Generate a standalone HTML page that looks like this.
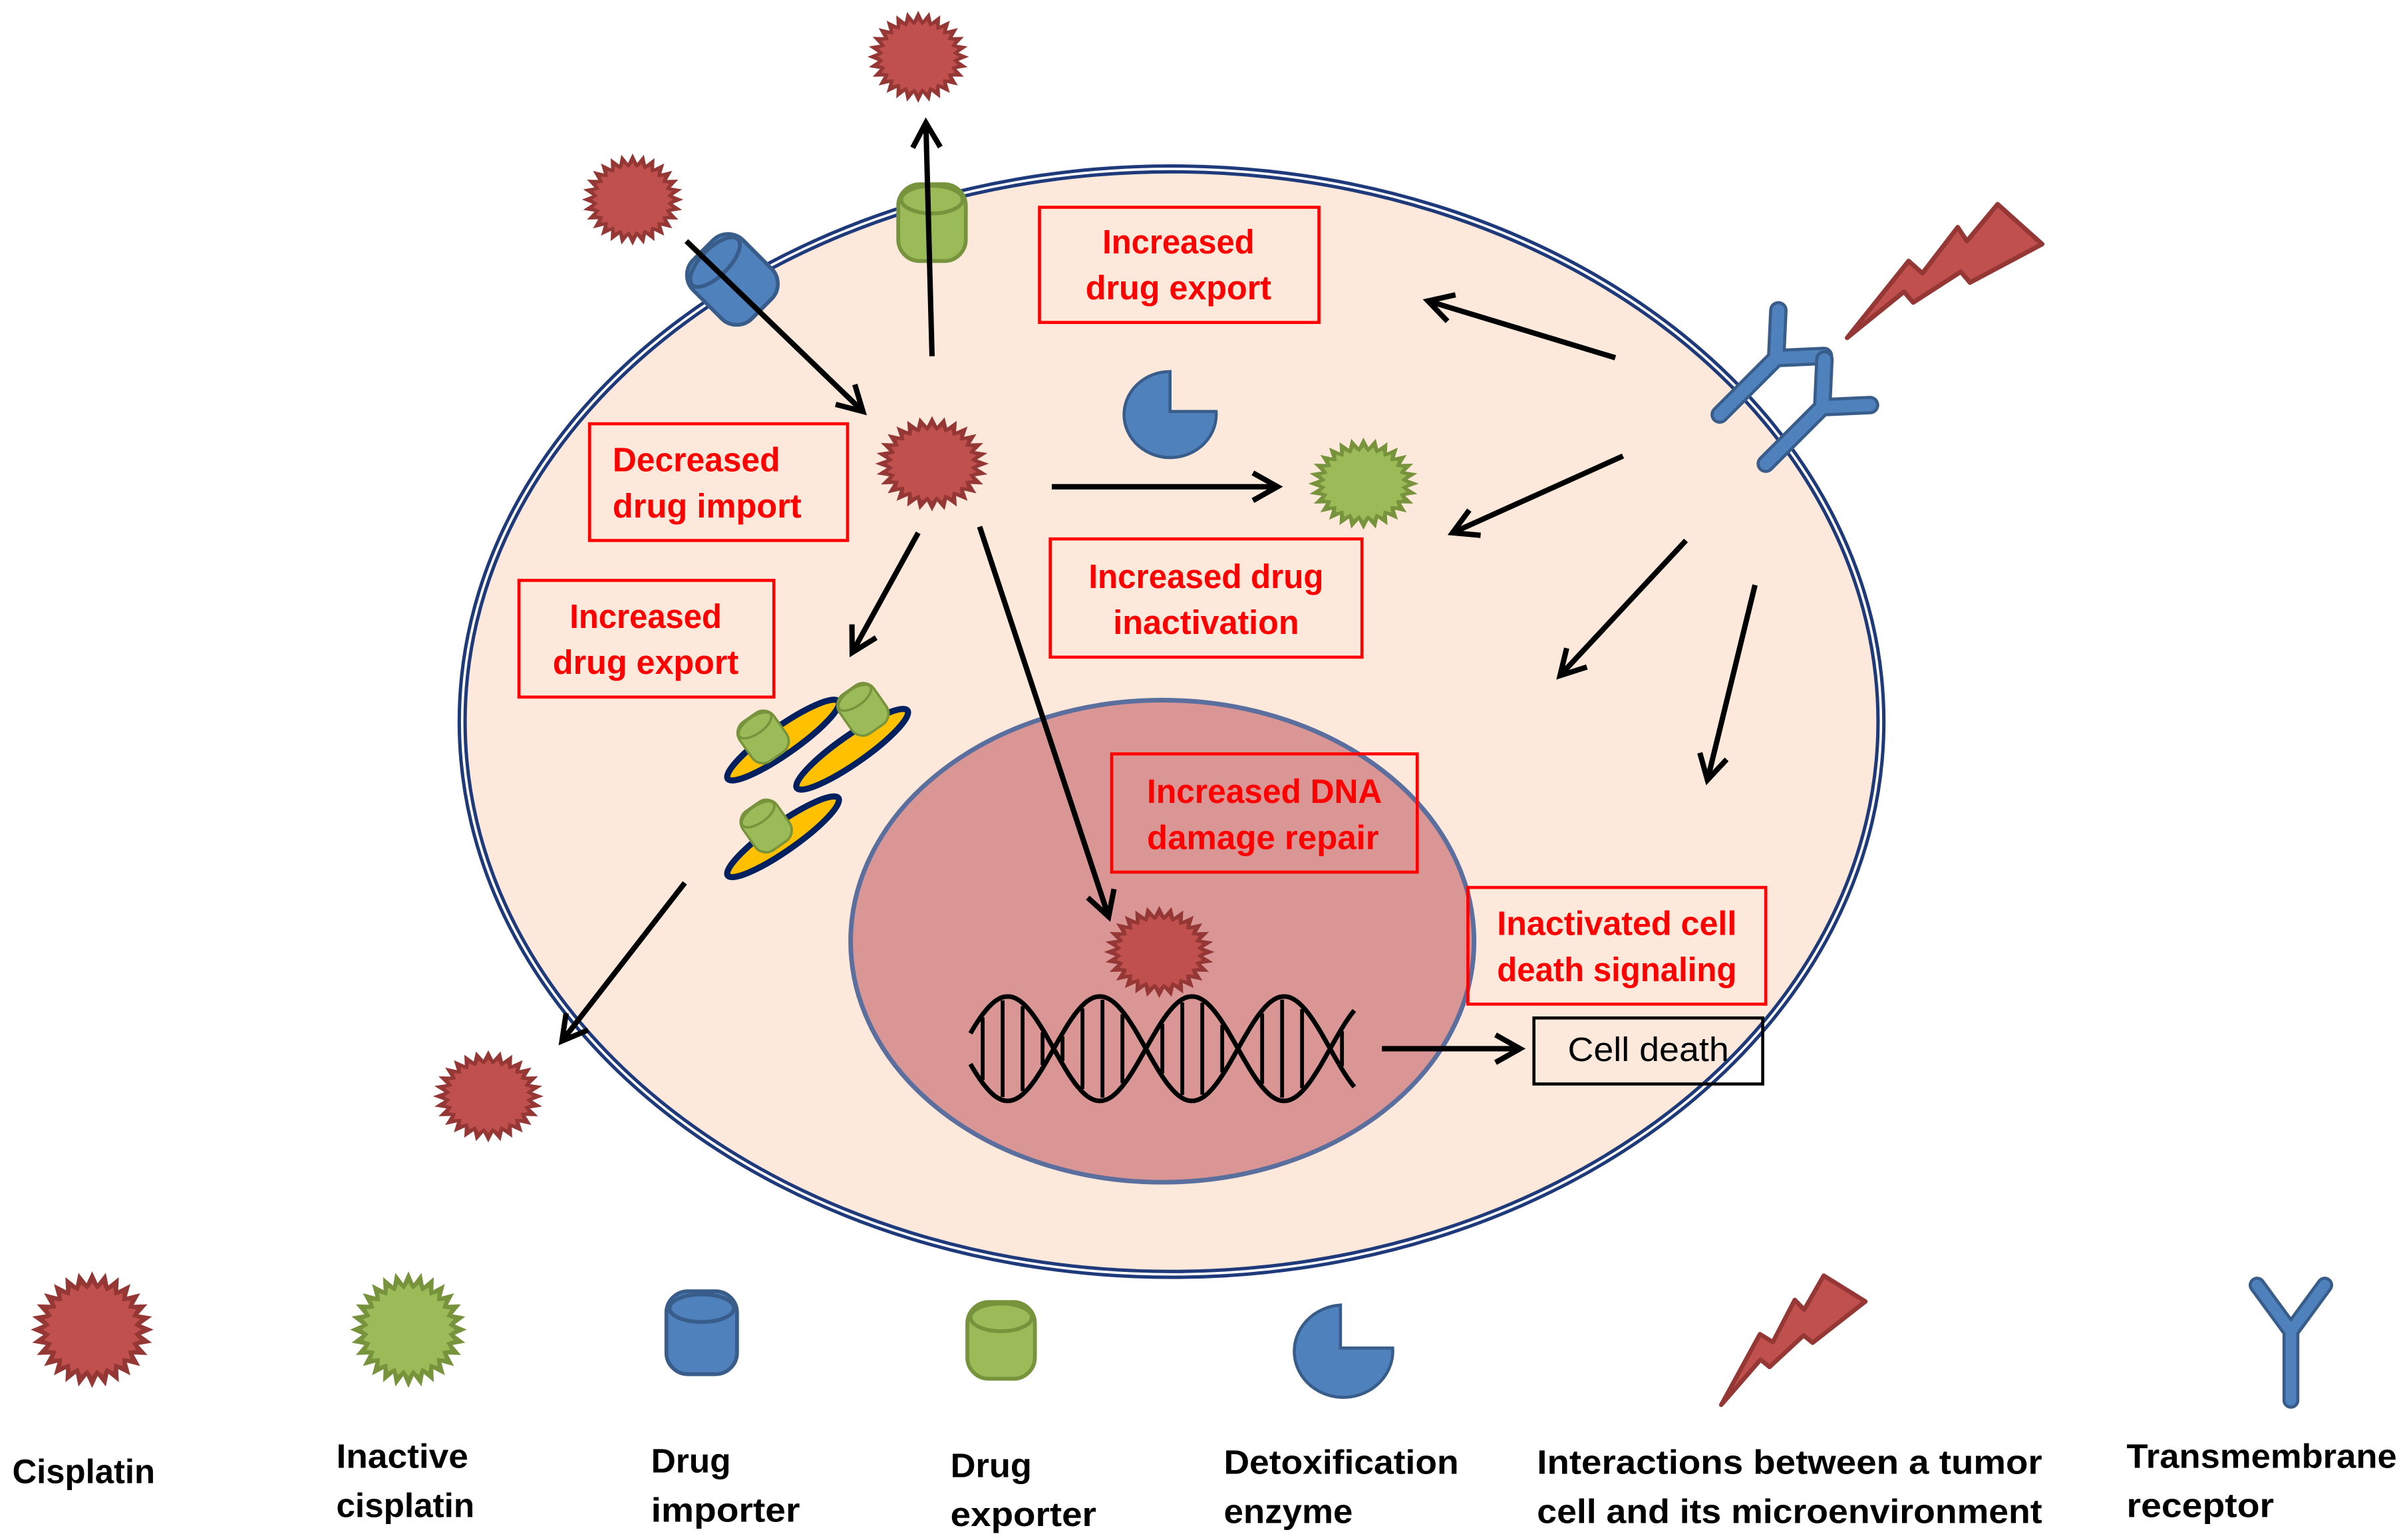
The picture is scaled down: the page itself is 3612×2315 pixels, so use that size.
<!DOCTYPE html>
<html><head><meta charset="utf-8"><style>
html,body{margin:0;padding:0;background:#fff}
svg{display:block}
.r{font-family:"Liberation Sans",sans-serif;font-size:22px;fill:#ff0000;font-weight:bold}
.k{font-family:"Liberation Sans",sans-serif;font-size:22px;fill:#000;font-weight:bold}
</style></head><body>
<svg id="s" width="3612" height="2315" viewBox="0 0 1565 1003" preserveAspectRatio="none" xmlns="http://www.w3.org/2000/svg">
<defs>
<marker id="b" markerWidth="24" markerHeight="24" refX="20" refY="12" orient="auto" markerUnits="userSpaceOnUse" viewBox="0 0 24 24">
<path d="M4,3 L20,12 L4,21" fill="none" stroke="#000" stroke-width="3.5"/>
</marker>
<g id="cylG">
<rect x="-22" y="-25" width="44" height="50" rx="14" fill="#9bbb59" stroke="#77933c" stroke-width="2.5"/>
<ellipse cx="0" cy="-15" rx="20" ry="9" fill="#9bbb59" stroke="#77933c" stroke-width="2.5"/>
</g>
<g id="cylB">
<rect x="-23" y="-27" width="46" height="54" rx="14" fill="#4f81bd" stroke="#385d8a" stroke-width="2.5"/>
<ellipse cx="0" cy="-16" rx="21" ry="9" fill="#4f81bd" stroke="#385d8a" stroke-width="2.5"/>
</g>
<g id="Y">
<path d="M0,0 L0,-52 M0,-52 L-21,-75 M0,-52 L21,-75" fill="none" stroke="#385d8a" stroke-width="12" stroke-linecap="round" stroke-linejoin="miter"/>
<path d="M0,0 L0,-52 M0,-52 L-21,-75 M0,-52 L21,-75" fill="none" stroke="#4f81bd" stroke-width="8" stroke-linecap="round"/>
</g>
</defs>

<ellipse cx="763" cy="470" rx="462" ry="360" fill="#fce9db" stroke="#1f3a7a" stroke-width="6"/>
<ellipse cx="763" cy="470" rx="462" ry="360" fill="none" stroke="#fff" stroke-width="1.6"/>
<ellipse cx="757" cy="613" rx="203" ry="157" fill="#d99694" stroke="#5b6f9e" stroke-width="3"/>

<use href="#cylG" x="607" y="145"/>
<g transform="translate(477,182) rotate(-45)"><use href="#cylB"/></g>

<g fill="none" stroke="#ff0000" stroke-width="2">
<rect x="677" y="135" width="182" height="75"/>
<rect x="384" y="276" width="168" height="76"/>
<rect x="338" y="378" width="166" height="76"/>
<rect x="684" y="351" width="203" height="77"/>
<rect x="724" y="491" width="199" height="77"/>
<rect x="956" y="578" width="194" height="76"/>
</g>
<rect x="999" y="663" width="149" height="43" fill="none" stroke="#000" stroke-width="2"/>

<text class="r" x="718" y="165" textLength="99" lengthAdjust="spacingAndGlyphs">Increased</text>
<text class="r" x="707" y="195" textLength="121" lengthAdjust="spacingAndGlyphs">drug export</text>
<text class="r" x="399" y="307" textLength="109" lengthAdjust="spacingAndGlyphs">Decreased</text>
<text class="r" x="399" y="337" textLength="123" lengthAdjust="spacingAndGlyphs">drug import</text>
<text class="r" x="371" y="409" textLength="99" lengthAdjust="spacingAndGlyphs">Increased</text>
<text class="r" x="360" y="439" textLength="121" lengthAdjust="spacingAndGlyphs">drug export</text>
<text class="r" x="709" y="383" textLength="153" lengthAdjust="spacingAndGlyphs">Increased drug</text>
<text class="r" x="725" y="413" textLength="121" lengthAdjust="spacingAndGlyphs">inactivation</text>
<text class="r" x="747" y="523" textLength="153" lengthAdjust="spacingAndGlyphs">Increased DNA</text>
<text class="r" x="747" y="553" textLength="151" lengthAdjust="spacingAndGlyphs">damage repair</text>
<text class="r" x="975" y="609" textLength="156" lengthAdjust="spacingAndGlyphs">Inactivated cell</text>
<text class="r" x="975" y="639" textLength="156" lengthAdjust="spacingAndGlyphs">death signaling</text>
<text class="k" x="1021" y="691" textLength="105" lengthAdjust="spacingAndGlyphs" style="font-weight:normal">Cell death</text>

<g stroke="#002060" stroke-width="4" fill="#ffc000">
<ellipse cx="510" cy="482" rx="44" ry="9" transform="rotate(-35 510 482)"/>
<ellipse cx="555" cy="488" rx="44" ry="9" transform="rotate(-35 555 488)"/>
<ellipse cx="510" cy="545" rx="44" ry="9" transform="rotate(-35 510 545)"/>
</g>
<g transform="translate(497,480) rotate(-35) scale(0.62)"><use href="#cylG"/></g>
<g transform="translate(562,462) rotate(-35) scale(0.62)"><use href="#cylG"/></g>
<g transform="translate(499,538) rotate(-35) scale(0.62)"><use href="#cylG"/></g>

<path d="M762,242 A30,28 0 1 0 792,268 L762,268 Z" fill="#4f81bd" stroke="#385d8a" stroke-width="2"/>

<g fill="none" stroke="#000" stroke-width="3">
<path id="dna1"/>
<path id="dna2"/>
<g id="rungs" stroke-width="2.5"></g>
</g>

<g id="stars"></g>

<g stroke="#000" stroke-width="3.5" fill="none" marker-end="url(#b)">
<line x1="447" y1="157" x2="562" y2="268"/>
<line x1="607" y1="232" x2="603" y2="80"/>
<line x1="685" y1="317" x2="832" y2="317"/>
<line x1="598" y1="347" x2="555" y2="425"/>
<line x1="638" y1="343" x2="722" y2="597"/>
<line x1="446" y1="575" x2="366" y2="678"/>
<line x1="1052" y1="233" x2="930" y2="196"/>
<line x1="1057" y1="297" x2="946" y2="347"/>
<line x1="1098" y1="352" x2="1016" y2="440"/>
<line x1="1143" y1="381" x2="1112" y2="508"/>
<line x1="900" y1="683" x2="990" y2="683"/>
</g>

<g transform="translate(1120,270) rotate(45)"><use href="#Y"/></g>
<g transform="translate(1150,302) rotate(45)"><use href="#Y"/></g>
<polygon id="bolt" points="1203,220 1243,170 1252,178 1275,148 1281,157 1301,133 1330,159 1283,184 1277,177 1246,197 1240,190" fill="#c0504d" stroke="#953735" stroke-width="3" stroke-linejoin="round"/>

<g transform="translate(457,868)"><use href="#cylB"/></g>
<g transform="translate(652,873)"><use href="#cylG"/></g>
<path d="M873,850 A32,30 0 1 0 907,878 L873,878 Z" fill="#4f81bd" stroke="#385d8a" stroke-width="2"/>
<g transform="translate(1121,915) rotate(-10) scale(0.82) translate(-1203,-220)">
<polygon points="1203,220 1243,170 1252,178 1275,148 1281,157 1301,133 1330,159 1283,184 1277,177 1246,197 1240,190" fill="#c0504d" stroke="#953735" stroke-width="3.5" stroke-linejoin="round"/>
</g>
<g transform="translate(1492,912)"><path d="M0,0 L0,-45 M0,-45 L-22,-75 M0,-45 L22,-75" fill="none" stroke="#385d8a" stroke-width="11" stroke-linecap="round"/><path d="M0,0 L0,-45 M0,-45 L-22,-75 M0,-45 L22,-75" fill="none" stroke="#4f81bd" stroke-width="7" stroke-linecap="round"/></g>

<text class="k" x="8" y="966" textLength="93" lengthAdjust="spacingAndGlyphs">Cisplatin</text>
<text class="k" x="219" y="956" textLength="86" lengthAdjust="spacingAndGlyphs">Inactive</text>
<text class="k" x="219" y="988" textLength="90" lengthAdjust="spacingAndGlyphs">cisplatin</text>
<text class="k" x="424" y="959" textLength="52" lengthAdjust="spacingAndGlyphs">Drug</text>
<text class="k" x="424" y="991" textLength="97" lengthAdjust="spacingAndGlyphs">importer</text>
<text class="k" x="619" y="962" textLength="53" lengthAdjust="spacingAndGlyphs">Drug</text>
<text class="k" x="619" y="994" textLength="95" lengthAdjust="spacingAndGlyphs">exporter</text>
<text class="k" x="797" y="960" textLength="153" lengthAdjust="spacingAndGlyphs">Detoxification</text>
<text class="k" x="797" y="992" textLength="84" lengthAdjust="spacingAndGlyphs">enzyme</text>
<text class="k" x="1001" y="960" textLength="329" lengthAdjust="spacingAndGlyphs">Interactions between a tumor</text>
<text class="k" x="1001" y="992" textLength="329" lengthAdjust="spacingAndGlyphs">cell and its microenvironment</text>
<text class="k" x="1385" y="956" textLength="176" lengthAdjust="spacingAndGlyphs">Transmembrane</text>
<text class="k" x="1385" y="988" textLength="96" lengthAdjust="spacingAndGlyphs">receptor</text>
</svg>
<script>
(function(){
var NS="http://www.w3.org/2000/svg";
function star(cx,cy,rx,ry,n,fill,edge){
  var g=document.getElementById("stars");
  function pts(sx,sy,inner){var p=[];for(var i=0;i<2*n;i++){var a=Math.PI*i/n-Math.PI/2;var r=(i%2==0)?1:inner;p.push((cx+Math.cos(a)*sx*r).toFixed(1)+","+(cy+Math.sin(a)*sy*r).toFixed(1));}return p.join(" ");}
  var p1=document.createElementNS(NS,"polygon");p1.setAttribute("points",pts(rx,ry,0.8));p1.setAttribute("fill",edge);g.appendChild(p1);
  var p2=document.createElementNS(NS,"polygon");p2.setAttribute("points",pts(rx*0.8,ry*0.8,0.86));p2.setAttribute("fill",fill);g.appendChild(p2);
}
var R="#c0504d",RE="#953735",G="#9bbb59",GE="#77933c";
star(598,37,33,30,28,R,RE);
star(412,130,33,30,28,R,RE);
star(607,302,37,31,28,R,RE);
star(755,620,36,30,28,R,RE);
star(318,714,36,30,28,R,RE);
star(888,315,36,30,28,G,GE);
star(60,866,40,38,28,R,RE);
star(266,866,38,38,28,G,GE);
var x0=632,x1=882,cy=683,A=34,P=120;
var d1="",d2="";
for(var x=x0;x<=x1;x+=2){var t=(x-x0)/P*2*Math.PI;var y1=cy+A*Math.sin(t+0.3),y2=cy-A*Math.sin(t+0.3);d1+=(x==x0?"M":"L")+x+","+y1.toFixed(1);d2+=(x==x0?"M":"L")+x+","+y2.toFixed(1);}
document.getElementById("dna1").setAttribute("d",d1);
document.getElementById("dna2").setAttribute("d",d2);
var rg=document.getElementById("rungs");
for(var x=x0+8;x<x1;x+=13){var t=(x-x0)/P*2*Math.PI;var a=A*Math.abs(Math.sin(t+0.3));if(a<10)continue;var l=document.createElementNS(NS,"line");l.setAttribute("x1",x);l.setAttribute("x2",x);l.setAttribute("y1",cy-a+2);l.setAttribute("y2",cy+a-2);rg.appendChild(l);}
})();
</script>
</body></html>
